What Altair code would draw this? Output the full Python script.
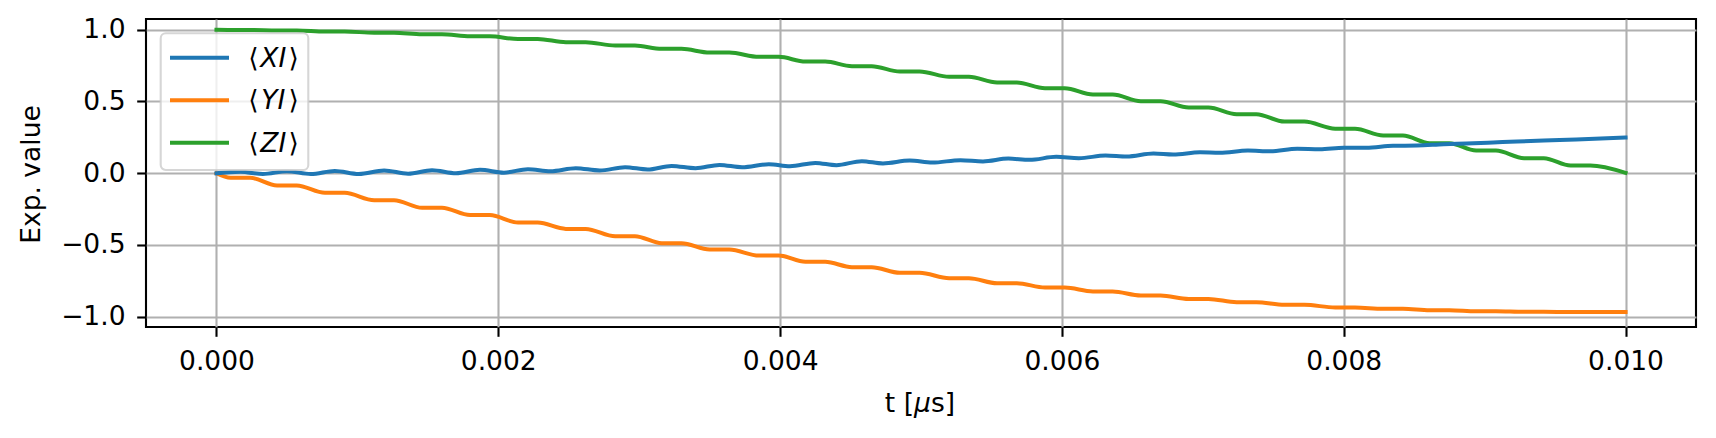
import altair as alt
import pandas as pd

# ---- data (time in units of 0.001) ----
T_UNIT = 1e-3

PLATEAU_START = [0.10, 0.43, 0.77, 1.12, 1.46, 1.80, 2.14, 2.48, 2.83, 3.16,
                 3.50, 3.85, 4.18, 4.51, 4.85, 5.20, 5.54, 5.88, 6.22, 6.56,
                 6.90, 7.24, 7.58, 7.94, 8.28, 8.61, 8.94, 9.28, 9.61]
PLATEAU_END = [0.24, 0.57, 0.91, 1.26, 1.60, 1.94, 2.28, 2.62, 2.97, 3.30,
               3.64, 3.99, 4.32, 4.65, 4.99, 5.34, 5.68, 6.02, 6.36, 6.70,
               7.04, 7.38, 7.72, 8.08, 8.42, 8.75, 9.08, 9.42, 9.75]

ZI_PLATEAU = [0.999, 0.995, 0.988, 0.979, 0.968, 0.954, 0.936, 0.913, 0.890, 0.867,
              0.841, 0.811, 0.778, 0.746, 0.709, 0.672, 0.632, 0.592, 0.548, 0.502,
              0.458, 0.411, 0.360, 0.310, 0.263, 0.209, 0.158, 0.105, 0.054]
ZI_ENDS = [1.0, 0.003]

YI_PLATEAU = [-0.032, -0.086, -0.137, -0.188, -0.241, -0.292, -0.344, -0.388, -0.439, -0.488,
              -0.532, -0.574, -0.618, -0.655, -0.694, -0.732, -0.767, -0.797, -0.824, -0.852,
              -0.876, -0.899, -0.917, -0.936, -0.945, -0.955, -0.962, -0.966, -0.968]
YI_ENDS = [0.0, -0.968]

XI_T = [0.00, 0.17, 0.33, 0.50, 0.67, 0.84, 1.01, 1.19, 1.36, 1.53,
        1.70, 1.87, 2.04, 2.21, 2.37, 2.55, 2.72, 2.90, 3.06, 3.23,
        3.40, 3.57, 3.73, 3.92, 4.07, 4.25, 4.40, 4.58, 4.73, 4.92,
        5.08, 5.28, 5.44, 5.62, 5.77, 5.96, 6.12, 6.31, 6.46, 6.65,
        6.79, 6.98, 7.12, 7.32, 7.48, 7.67, 7.83, 8.00, 8.16, 8.35,
        8.52, 8.71, 8.87, 9.06, 9.23, 9.42, 9.65, 10.0]
XI_V = [0.000, 0.010, -0.006, 0.014, -0.006, 0.016, -0.005, 0.019, -0.003, 0.021,
        0.000, 0.024, 0.004, 0.028, 0.014, 0.035, 0.019, 0.042, 0.026, 0.051,
        0.035, 0.058, 0.042, 0.063, 0.049, 0.072, 0.056, 0.084, 0.068, 0.088,
        0.074, 0.091, 0.082, 0.102, 0.093, 0.114, 0.105, 0.123, 0.116, 0.137,
        0.130, 0.146, 0.142, 0.158, 0.153, 0.170, 0.167, 0.177, 0.177, 0.191,
        0.193, 0.202, 0.207, 0.214, 0.221, 0.228, 0.235, 0.249]

SERIES = ["XI", "YI", "ZI"]
COLORS = ["#1f77b4", "#ff7f0e", "#2ca02c"]
X_TICKS = [0.0, 0.002, 0.004, 0.006, 0.008, 0.010]
Y_TICKS = [-1.0, -0.5, 0.0, 0.5, 1.0]

rows = []
for name, ends, plats in [("ZI", ZI_ENDS, ZI_PLATEAU), ("YI", YI_ENDS, YI_PLATEAU)]:
    rows.append((name, 0.0, ends[0]))
    for s, e, v in zip(PLATEAU_START, PLATEAU_END, plats):
        rows.append((name, s * T_UNIT, v))
        rows.append((name, e * T_UNIT, v))
    rows.append((name, 10.0 * T_UNIT, ends[1]))
for t, v in zip(XI_T, XI_V):
    rows.append(("XI", t * T_UNIT, v))
df = pd.DataFrame(rows, columns=["series", "t", "value"])

FONT = "DejaVu Sans"
FS = 26.5
W, H = 1550, 308

x_axis = alt.Axis(
    values=X_TICKS, format=".3f", title=None,
    grid=True, gridColor="#b0b0b0", gridWidth=2.1,
    domain=False, ticks=True, tickColor="black", tickSize=9.3, tickWidth=2.1,
    labelFont=FONT, labelFontSize=FS, labelColor="black", labelPadding=12,
    labelFlush=False, labelOverlap=False,
)
y_axis = alt.Axis(
    values=Y_TICKS, labelExpr="replace(format(datum.value, '.1f'), '-', '\u2212')",
    title="Exp. value",
    grid=True, gridColor="#b0b0b0", gridWidth=2.1,
    domain=False, ticks=True, tickColor="black", tickSize=9.3, tickWidth=2.1,
    labelFont=FONT, labelFontSize=FS, labelColor="black", labelPadding=11.7,
    labelFlush=False, labelOverlap=False,
    titleFont=FONT, titleFontSize=FS, titleFontWeight="normal", titleColor="black",
    titleAngle=270, titleX=-106.7, titleY=155, titleBaseline="alphabetic", titleAlign="center",
)

lines = alt.Chart(df).mark_line(strokeWidth=4, interpolate="monotone", strokeCap="square", strokeJoin="round").encode(
    x=alt.X("t:Q", scale=alt.Scale(domain=[-0.0005, 0.0105], nice=False, zero=False), axis=x_axis),
    y=alt.Y("value:Q", scale=alt.Scale(domain=[-1.072, 1.075], nice=False, zero=False), axis=y_axis),
    color=alt.Color("series:N", scale=alt.Scale(domain=SERIES, range=COLORS), legend=None),
)

dummy = pd.DataFrame({"a": [0]})


def txt(s, x, y, align, italic=False, baseline="middle"):
    kw = dict(text=s, font=FONT, fontSize=FS, align=align, baseline=baseline, color="black")
    if italic:
        kw["fontStyle"] = "italic"
    return alt.Chart(dummy).mark_text(**kw).encode(x=alt.value(x), y=alt.value(y))


layers = [lines]
# x-axis title: t [$\mu$s]
XT_Y = 392.7
layers += [txt("t [", 768, XT_Y, "right", baseline="alphabetic"),
           txt("\u03bc", 776.5, XT_Y, "center", italic=True, baseline="alphabetic"),
           txt("s]", 785, XT_Y, "left", baseline="alphabetic")]
# legend
layers.append(
    alt.Chart(dummy).mark_rect(fill="white", fillOpacity=0.8, stroke="#cccccc", strokeOpacity=0.8,
                               strokeWidth=2.1, cornerRadius=5).encode(
        x=alt.value(14.7), x2=alt.value(162.3), y=alt.value(14.3), y2=alt.value(151))
)
for i, (name, color) in enumerate(zip(SERIES, COLORS)):
    yy = 38.7 + i * 42.5
    layers.append(alt.Chart(dummy).mark_rule(color=color, strokeWidth=4).encode(
        x=alt.value(24), x2=alt.value(83), y=alt.value(yy)))
    layers.append(txt("\u27e8", 112.5, yy + 1, "right"))
    layers.append(txt(name, 127.3, yy + 1, "center", italic=True))
    layers.append(txt("\u27e9", 142.5, yy + 1, "left"))

chart = alt.layer(*layers).properties(
    width=W, height=H,
    background="white",
    autosize=alt.AutoSizeParams(type="none"),
    padding={"left": 138, "top": 11, "right": 10, "bottom": 95},
).configure_view(stroke="black", strokeWidth=2.1)

chart.save("out.html", embed_options={"renderer": "svg", "actions": False})
